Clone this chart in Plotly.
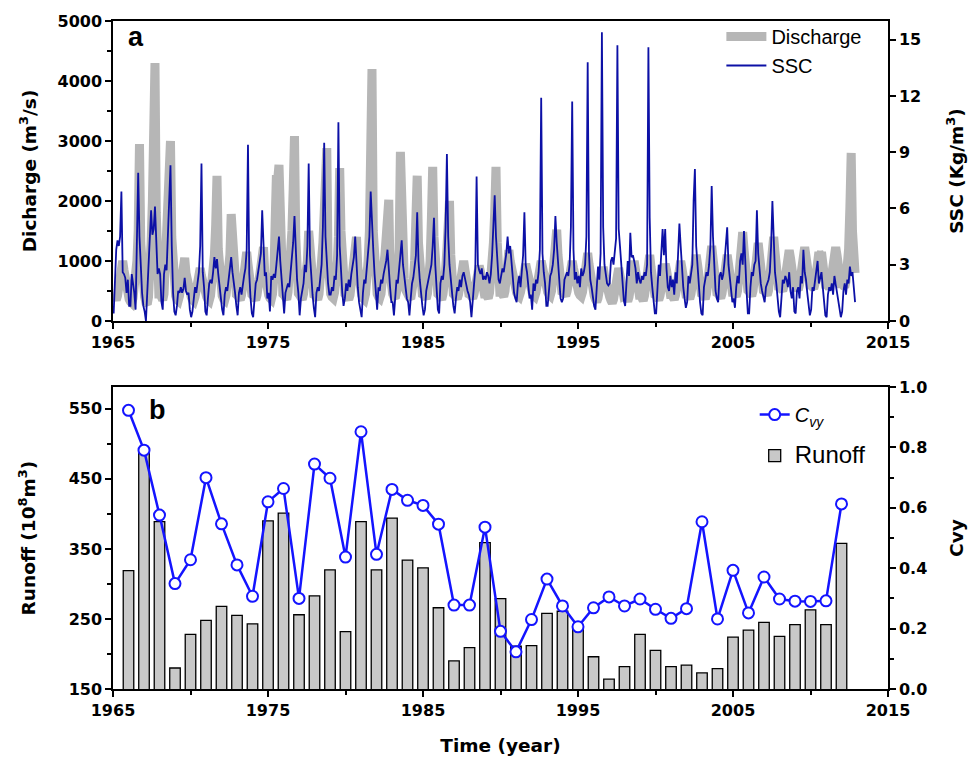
import plotly.graph_objects as go
from plotly.subplots import make_subplots

# ---------------- Panel a: monthly discharge (m3/s) and SSC (kg/m3) ----------------
start_year = 1965
discharge_by_year = [
    [450, 380, 350, 420, 600, 800, 900, 1000, 850, 650, 500, 420],      # 1965
    [360, 320, 300, 380, 550, 750, 1000, 1500, 2950, 1300, 600, 420],   # 1966
    [400, 300, 280, 400, 700, 1300, 2000, 2970, 4300, 1800, 700, 450],  # 1967
    [450, 380, 350, 450, 1000, 1300, 1300, 1800, 3000, 1400, 650, 450], # 1968
    [420, 360, 340, 420, 600, 750, 900, 1050, 800, 650, 500, 420],      # 1969
    [400, 350, 330, 400, 550, 700, 800, 880, 750, 600, 480, 410],       # 1970
    [400, 360, 340, 420, 600, 800, 1100, 1600, 2420, 1200, 600, 450],   # 1971
    [420, 370, 350, 430, 600, 800, 1100, 1780, 1200, 800, 520, 440],    # 1972
    [420, 370, 350, 430, 580, 750, 900, 1150, 950, 700, 520, 440],      # 1973
    [420, 370, 350, 430, 580, 750, 900, 1050, 1230, 800, 520, 440],     # 1974
    [430, 380, 360, 450, 700, 1600, 2430, 2350, 2600, 1200, 600, 450],  # 1975
    [430, 380, 360, 480, 700, 1000, 1500, 2200, 3080, 1400, 620, 460],  # 1976
    [430, 380, 360, 450, 600, 800, 1000, 1500, 1100, 750, 540, 440],    # 1977
    [430, 380, 360, 450, 650, 900, 1300, 1800, 2200, 2880, 1000, 500],  # 1978
    [450, 400, 380, 470, 650, 900, 1400, 2550, 1500, 800, 540, 450],    # 1979
    [430, 380, 360, 430, 580, 750, 900, 1100, 1400, 900, 600, 450],     # 1980
    [430, 380, 360, 450, 650, 1000, 1500, 2300, 4200, 1500, 700, 480],  # 1981
    [450, 400, 380, 450, 600, 800, 1100, 1400, 1700, 2020, 800, 480],   # 1982
    [450, 400, 380, 480, 700, 1200, 2820, 1800, 1100, 700, 520, 450],   # 1983
    [440, 390, 370, 460, 650, 1000, 1700, 2420, 1300, 750, 520, 450],   # 1984
    [440, 390, 370, 460, 650, 1000, 1700, 2570, 1400, 800, 540, 450],   # 1985
    [430, 380, 360, 450, 600, 850, 1200, 1600, 2000, 1100, 560, 450],   # 1986
    [430, 390, 370, 440, 560, 700, 850, 1000, 850, 650, 520, 450],      # 1987
    [440, 400, 380, 450, 560, 700, 820, 920, 820, 650, 520, 450],       # 1988
    [450, 400, 380, 470, 650, 900, 1300, 1800, 2570, 1300, 620, 480],   # 1989
    [480, 430, 410, 500, 650, 850, 1180, 1000, 850, 700, 560, 480],     # 1990
    [470, 430, 410, 480, 600, 750, 900, 950, 850, 700, 560, 480],       # 1991
    [470, 430, 410, 480, 620, 780, 900, 1000, 900, 720, 570, 480],      # 1992
    [480, 440, 420, 500, 680, 900, 1150, 1520, 1100, 800, 580, 490],    # 1993
    [480, 440, 420, 490, 620, 780, 900, 1000, 880, 720, 580, 490],      # 1994
    [470, 430, 410, 480, 620, 800, 950, 1130, 950, 750, 580, 480],      # 1995
    [420, 360, 320, 380, 500, 650, 780, 900, 750, 600, 480, 420],       # 1996
    [400, 340, 300, 360, 480, 620, 750, 880, 760, 600, 470, 410],       # 1997
    [420, 360, 330, 400, 550, 720, 850, 1000, 850, 650, 500, 430],      # 1998
    [430, 370, 340, 420, 580, 760, 900, 1100, 900, 680, 520, 440],      # 1999
    [430, 380, 350, 420, 560, 720, 850, 950, 850, 660, 520, 440],       # 2000
    [440, 390, 360, 430, 580, 750, 880, 1000, 880, 680, 530, 450],      # 2001
    [450, 400, 370, 450, 600, 800, 950, 1100, 950, 720, 550, 460],      # 2002
    [450, 400, 370, 450, 620, 850, 1050, 1250, 1050, 760, 560, 470],    # 2003
    [460, 410, 380, 460, 600, 800, 950, 1100, 950, 730, 560, 480],      # 2004
    [480, 430, 410, 500, 700, 950, 1200, 1480, 1200, 850, 620, 510],    # 2005
    [490, 440, 420, 500, 680, 900, 1100, 1300, 1100, 820, 610, 510],    # 2006
    [500, 450, 430, 510, 700, 950, 1150, 1400, 1150, 850, 630, 520],    # 2007
    [560, 520, 500, 580, 720, 900, 1050, 1180, 1050, 840, 660, 580],    # 2008
    [580, 540, 520, 600, 740, 950, 1100, 1230, 1080, 860, 680, 600],    # 2009
    [600, 560, 540, 620, 800, 1050, 1150, 1100, 1150, 900, 700, 610],   # 2010
    [610, 570, 550, 620, 780, 1000, 1150, 1230, 1100, 880, 700, 620],   # 2011
    [620, 580, 560, 660, 850, 1200, 1900, 2800, 1500, 1000, 800],       # 2012
]
ssc_by_year = [
    [0.4, 2.5, 3.8, 4.3, 4.0, 4.5, 6.9, 2.6, 2.5, 2.3, 1.5, 2.2],   # 1965
    [0.8, 0.8, 2.5, 2.0, 1.5, 0.6, 3.5, 7.9, 4.5, 2.5, 1.5, 0.8],   # 1966
    [0.5, 0.0, 1.5, 3.0, 4.5, 5.9, 4.6, 4.9, 6.1, 4.0, 2.5, 2.8],   # 1967
    [2.5, 1.0, 0.6, 2.5, 3.0, 2.7, 4.5, 6.0, 8.3, 4.0, 1.5, 0.5],   # 1968
    [0.3, 0.8, 1.6, 1.5, 1.8, 1.5, 1.7, 2.3, 1.6, 1.4, 1.5, 0.6],   # 1969
    [0.2, 0.5, 1.4, 1.8, 1.5, 2.0, 2.6, 4.0, 8.4, 2.6, 1.8, 0.5],   # 1970
    [0.3, 1.2, 2.0, 2.2, 2.0, 2.6, 3.4, 2.8, 3.3, 2.5, 1.8, 1.0],   # 1971
    [0.6, 0.3, 1.4, 1.8, 1.6, 2.2, 2.9, 3.4, 2.6, 2.1, 1.5, 0.8],   # 1972
    [0.3, 1.5, 1.8, 1.4, 2.0, 2.4, 2.8, 3.8, 9.4, 2.5, 1.2, 0.4],   # 1973
    [0.2, 1.0, 2.0, 2.2, 2.6, 3.0, 3.6, 5.9, 3.5, 2.4, 2.6, 1.2],   # 1974
    [1.5, 0.5, 2.4, 2.2, 2.5, 2.3, 3.0, 3.8, 4.5, 3.2, 2.2, 1.2],   # 1975
    [0.4, 1.5, 1.8, 2.0, 1.8, 2.6, 3.0, 4.2, 5.6, 3.5, 2.2, 1.5],   # 1976
    [0.3, 1.2, 1.6, 2.0, 3.0, 2.6, 4.0, 8.4, 3.5, 2.2, 1.4, 0.7],   # 1977
    [0.2, 1.5, 1.8, 1.6, 2.2, 3.0, 5.0, 9.5, 4.5, 3.2, 2.0, 1.4],   # 1978
    [1.4, 1.8, 1.6, 2.4, 2.2, 3.5, 10.6, 4.0, 2.5, 1.5, 0.8, 1.2],  # 1979
    [2.0, 1.6, 2.2, 1.8, 2.5, 3.0, 3.4, 4.5, 2.6, 1.8, 1.0, 0.5],   # 1980
    [0.2, 1.5, 2.2, 2.0, 2.8, 3.5, 4.5, 6.9, 4.9, 3.8, 2.5, 1.5],   # 1981
    [0.6, 1.8, 1.6, 2.2, 2.0, 2.5, 2.8, 3.2, 3.8, 2.6, 1.8, 1.0],   # 1982
    [1.0, 0.3, 1.5, 2.2, 2.0, 2.7, 3.2, 4.3, 3.0, 2.4, 1.6, 1.2],   # 1983
    [1.0, 0.3, 1.2, 2.0, 2.3, 3.0, 3.5, 5.8, 3.2, 2.2, 1.4, 0.8],   # 1984
    [0.3, 0.6, 1.6, 2.0, 2.2, 2.6, 3.0, 4.0, 5.5, 3.0, 1.5, 0.6],   # 1985
    [0.4, 2.0, 2.4, 2.2, 3.0, 5.0, 8.9, 4.5, 3.0, 2.4, 1.5, 0.8],   # 1986
    [0.4, 1.2, 1.8, 1.6, 2.2, 1.8, 2.4, 2.6, 2.2, 1.8, 1.6, 1.4],   # 1987
    [1.0, 0.2, 1.2, 2.0, 2.8, 7.7, 3.0, 2.7, 2.5, 2.8, 2.2, 2.4],   # 1988
    [2.2, 2.6, 2.4, 2.0, 2.5, 3.5, 5.5, 6.7, 4.5, 3.2, 2.2, 2.0],   # 1989
    [2.4, 2.8, 2.6, 3.0, 3.6, 4.5, 3.6, 4.0, 3.0, 2.4, 1.5, 1.2],   # 1990
    [1.0, 2.0, 2.4, 1.8, 2.5, 3.5, 5.8, 3.0, 2.6, 2.0, 1.2, 1.4],   # 1991
    [0.6, 2.0, 1.6, 2.2, 2.0, 2.6, 3.8, 11.9, 3.6, 2.6, 2.0, 0.8],  # 1992
    [0.8, 1.6, 2.4, 2.6, 3.0, 3.8, 5.6, 4.2, 2.8, 2.2, 1.2, 1.0],   # 1993
    [1.2, 2.2, 2.4, 2.6, 2.4, 3.0, 5.0, 11.7, 3.8, 2.2, 2.6, 2.0],  # 1994
    [2.4, 1.8, 2.8, 2.4, 2.6, 3.0, 4.5, 13.8, 3.6, 2.2, 1.8, 1.2],  # 1995
    [0.8, 0.6, 2.2, 2.9, 2.2, 3.6, 15.4, 5.0, 3.0, 2.4, 2.0, 1.9],  # 1996
    [2.0, 3.2, 3.4, 3.0, 3.6, 4.4, 14.7, 4.9, 4.0, 3.0, 2.2, 1.1],  # 1997
    [0.8, 2.0, 3.2, 2.4, 4.7, 3.4, 3.5, 3.2, 2.8, 2.0, 2.6, 2.2],   # 1998
    [2.0, 2.4, 2.2, 2.6, 2.4, 3.0, 14.6, 5.5, 2.6, 1.8, 1.0, 0.4],  # 1999
    [0.4, 2.2, 3.0, 2.4, 4.1, 4.9, 3.5, 4.9, 2.8, 1.8, 1.6, 2.4],   # 2000
    [1.8, 2.2, 1.4, 2.6, 2.0, 3.6, 5.2, 4.0, 2.6, 1.8, 1.2, 0.7],   # 2001
    [1.0, 2.4, 2.0, 2.6, 3.0, 6.4, 8.1, 4.0, 2.8, 1.8, 1.0, 0.4],   # 2002
    [0.3, 1.8, 2.2, 2.6, 2.4, 3.0, 4.0, 7.2, 4.5, 2.6, 1.6, 1.2],   # 2003
    [1.0, 2.4, 2.6, 2.2, 2.5, 3.2, 4.0, 5.0, 3.0, 2.4, 1.8, 1.0],   # 2004
    [1.2, 0.7, 1.8, 2.4, 2.0, 3.2, 3.6, 3.0, 4.8, 2.8, 1.6, 0.4],   # 2005
    [0.4, 1.8, 2.6, 2.4, 3.0, 3.2, 5.9, 3.6, 2.6, 2.0, 1.6, 1.2],   # 2006
    [1.0, 1.8, 2.0, 2.2, 2.6, 4.0, 6.4, 3.8, 2.6, 2.0, 1.2, 0.5],   # 2007
    [0.2, 1.6, 2.2, 2.0, 2.4, 2.2, 1.8, 2.6, 1.6, 1.2, 1.8, 0.5],   # 2008
    [0.4, 1.6, 1.8, 1.2, 2.4, 2.0, 3.8, 2.6, 2.2, 1.5, 0.8, 0.3],   # 2009
    [0.6, 1.8, 1.6, 2.2, 2.6, 3.2, 2.0, 2.4, 2.6, 1.8, 1.2, 0.3],   # 2010
    [0.2, 1.4, 1.8, 1.6, 2.0, 1.4, 2.4, 2.0, 1.6, 1.2, 0.8, 0.2],   # 2011
    [0.5, 1.6, 2.0, 1.4, 2.2, 2.0, 2.9, 2.4, 2.6, 1.8, 1.0],        # 2012
]

# ---------------- Panel b: annual runoff (10^8 m3) and Cvy ----------------
years_b = list(range(1966, 2013))
runoff = [319, 490, 389, 180, 228, 248, 268, 255, 243, 390,
          401, 256, 283, 320, 232, 389, 320, 394, 334, 323,
          266, 190, 209, 359, 279, 211, 212, 258, 261, 240,
          196, 164, 182, 228, 205, 182, 184, 173, 179, 224,
          234, 245, 225, 242, 263, 242, 358]
cvy = [0.923, 0.791, 0.576, 0.349, 0.428, 0.700, 0.547, 0.411, 0.307, 0.620,
       0.664, 0.300, 0.745, 0.698, 0.437, 0.852, 0.446, 0.661, 0.625, 0.608,
       0.546, 0.278, 0.278, 0.536, 0.191, 0.123, 0.230, 0.364, 0.275, 0.206,
       0.269, 0.305, 0.275, 0.298, 0.264, 0.234, 0.266, 0.554, 0.232, 0.393,
       0.252, 0.371, 0.298, 0.291, 0.290, 0.292, 0.613]

# monthly time axis
t_dis, v_dis, t_ssc, v_ssc = [], [], [], []
for i, row in enumerate(discharge_by_year):
    for m, v in enumerate(row):
        t_dis.append(start_year + i + (m + 0.5) / 12)
        v_dis.append(v)
for i, row in enumerate(ssc_by_year):
    for m, v in enumerate(row):
        t_ssc.append(start_year + i + (m + 0.5) / 12)
        v_ssc.append(v)

TICKFONT = "DejaVu Sans, Verdana, sans-serif"
TEXTFONT = "Liberation Sans, Arial, sans-serif"
GRAY = "#b6b6b6"
NAVY = "#0c10a6"
BLUE = "#1414ff"

fig = make_subplots(rows=2, cols=1, specs=[[{"secondary_y": True}], [{"secondary_y": True}]],
                    vertical_spacing=0.0)

fig.add_trace(go.Scatter(x=t_dis, y=v_dis, mode="lines", name="Discharge",
                         line=dict(color=GRAY, width=9), legend="legend"),
              row=1, col=1, secondary_y=False)
fig.add_trace(go.Scatter(x=t_ssc, y=v_ssc, mode="lines", name="SSC",
                         line=dict(color=NAVY, width=1.8), legend="legend"),
              row=1, col=1, secondary_y=True)

fig.add_trace(go.Bar(x=years_b, y=runoff, name="<span style='font-size:24px'>Runoff</span>",
                     marker=dict(color="#c8c8c8", line=dict(color="black", width=1.3)),
                     width=0.68, legend="legend2", legendgroup="runoff", legendrank=2),
              row=2, col=1, secondary_y=False)
fig.add_trace(go.Scatter(x=years_b, y=cvy, mode="lines+markers", name="<i>C<sub>vy</sub></i>",
                         line=dict(color=BLUE, width=2.5),
                         marker=dict(symbol="circle", size=11, color="white",
                                     line=dict(color=BLUE, width=2)),
                         legend="legend2", legendgroup="cvy", legendrank=1),
              row=2, col=1, secondary_y=True)

top_dom = [0.551, 1.0]
bot_dom = [0.0, 0.452]

tickfont = dict(family=TICKFONT, size=16, color="black", weight="bold")
titlefont = dict(family=TICKFONT, size=18.5, color="black", weight="bold")

xcommon = dict(range=[1965, 2015], tick0=1965, dtick=10, ticks="outside", ticklen=6,
               tickwidth=1.5, tickcolor="black", showline=True, linecolor="black",
               linewidth=1.5, mirror=True, showgrid=False, zeroline=False,
               tickfont=tickfont, automargin=False, domain=[0, 1],
               minor=dict(tick0=1970, dtick=10, ticks="outside", ticklen=4,
                          tickwidth=1.5, tickcolor="black", showgrid=False))
fig.update_layout(
    xaxis=dict(**xcommon, anchor="y"),
    xaxis2=dict(**xcommon, anchor="y3",
                title=dict(text="Time (year)", font=titlefont, standoff=20)),
)

ycommon = dict(ticks="outside", ticklen=6, tickwidth=1.5, tickcolor="black",
               showline=True, linecolor="black", linewidth=1.5, showgrid=False,
               zeroline=False, tickfont=tickfont, automargin=False)
fig.update_layout(
    yaxis=dict(**ycommon, domain=top_dom, range=[0, 5000], tick0=0, dtick=1000,
               minor=dict(dtick=500, ticks="outside", ticklen=4, tickwidth=1.5,
                          tickcolor="black", showgrid=False),
               title=dict(text="Dicharge (m<sup>3</sup>/s)", font=titlefont, standoff=16)),
    yaxis2=dict(**ycommon, range=[0, 16], tick0=0, dtick=3,
                title=dict(text="SSC (Kg/m<sup>3</sup>)", font=titlefont, standoff=30)),
    yaxis3=dict(**ycommon, domain=bot_dom, range=[150, 581], tick0=150, dtick=100,
                minor=dict(tick0=150, dtick=50, ticks="outside", ticklen=4, tickwidth=1.5,
                           tickcolor="black", showgrid=False),
                title=dict(text="Runoff (10<sup>8</sup>m<sup>3</sup>)", font=titlefont,
                           standoff=28)),
    yaxis4=dict(**ycommon, range=[0, 1.0], tick0=0, dtick=0.2, tickformat=".1f",
                minor=dict(dtick=0.1, ticks="outside", ticklen=4, tickwidth=1.5,
                           tickcolor="black", showgrid=False),
                title=dict(text="Cvy", font=titlefont, standoff=24)),
)

fig.update_layout(
    width=979, height=757,
    margin=dict(l=113, r=91, t=21, b=68),
    plot_bgcolor="white", paper_bgcolor="white",
    legend=dict(x=0.785, y=1.006, xanchor="left", yanchor="top",
                bgcolor="rgba(0,0,0,0)", font=dict(family=TEXTFONT, size=20, color="black"),
                tracegroupgap=0, itemwidth=40),
    legend2=dict(x=0.828, y=0.44, xanchor="left", yanchor="top",
                 traceorder="grouped",
                 bgcolor="rgba(0,0,0,0)", font=dict(family=TEXTFONT, size=20, color="black"),
                 tracegroupgap=12, itemwidth=30),
    annotations=[
        dict(text="<b>a</b>", x=0.017, y=0.976, xref="paper", yref="paper",
             xanchor="left", yanchor="middle", showarrow=False,
             font=dict(family=TEXTFONT, size=27, color="black")),
        dict(text="<b>b</b>", x=0.044, y=0.4177, xref="paper", yref="paper",
             xanchor="left", yanchor="middle", showarrow=False,
             font=dict(family=TEXTFONT, size=27, color="black")),
    ],
)

fig.write_html("out.html")
